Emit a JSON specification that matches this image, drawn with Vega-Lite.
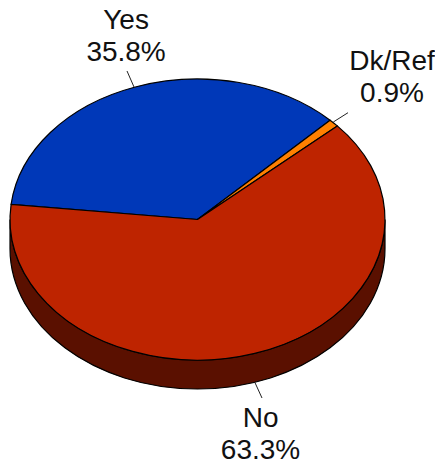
{
  "$schema": "https://vega.github.io/schema/vega-lite/v6.json",
  "width": 395,
  "height": 439,
  "padding": 0,
  "autosize": {"type": "pad"},
  "background": "white",
  "view": {"stroke": null},
  "data": {"values": [
    {"answer": "Yes", "share": 35.8, "rank": 1},
    {"answer": "Dk/Ref", "share": 0.9, "rank": 2},
    {"answer": "No", "share": 63.3, "rank": 3}
  ]},
  "transform": [
    {"stack": "share", "sort": [{"field": "rank", "order": "ascending"}], "as": ["s0", "s1"]},
    {"calculate": "(datum.s0 + datum.s1) / 2", "as": "mid"},
    {"calculate": "datum.answer + '\\n' + format(datum.share, '.1f') + '%'", "as": "label"}
  ],
  "layer": [
    {
      "transform": [{"filter": "datum.answer === 'No'"}],
      "mark": {"type": "point", "filled": true, "opacity": 1, "size": 4, "color": "#5A1000", "stroke": "#000", "strokeWidth": 1.2,
        "shape": "M187.5,0 A187.5,140.5 0 0 1 -187.5,0 L-187.5,29 A187.5,140.5 0 0 0 187.5,29 Z"},
      "encoding": {}
    },
    {
      "mark": {"type": "point", "filled": true, "opacity": 1, "size": 4, "stroke": "#000", "strokeWidth": 1.2},
      "encoding": {
        "color": {"field": "answer", "type": "nominal", "legend": null,
          "scale": {"domain": ["Yes", "Dk/Ref", "No"], "range": ["#0038B8", "#FF8000", "#BE2400"]}},
        "stroke": {"value": "#000"},
        "shape": {"field": "answer", "type": "nominal", "legend": null,
          "scale": {"domain": ["Yes", "Dk/Ref", "No"], "range": [
            "M0,0 L-186.4,-15.2 A187.5,140.5 0 0 1 132.6,-99.3 Z",
            "M0,0 L132.6,-99.3 A187.5,140.5 0 0 1 139.8,-93.6 Z",
            "M0,0 L139.8,-93.6 A187.5,140.5 0 1 1 -186.4,-15.2 Z"
          ]}}
      }
    },
    {
      "mark": {"type": "point", "filled": false, "opacity": 1, "size": 4, "color": "#222", "strokeWidth": 1},
      "encoding": {
        "shape": {"field": "answer", "type": "nominal", "legend": null,
          "scale": {"domain": ["Yes", "Dk/Ref", "No"], "range": [
            "M-70.5,-148.5 L-63.5,-132.5",
            "M135.8,-97.5 L150.5,-106.8",
            "M57.5,163.2 L64.5,178.5"
          ]}}
      }
    },
    {
      "transform": [{"filter": "datum.answer === 'Yes'"}],
      "mark": {"type": "text", "radius": 200, "dx": -5, "dy": -10, "font": "Liberation Sans", "fontSize": 28, "lineHeight": 32, "lineBreak": "\n", "color": "#111", "align": "center", "baseline": "middle"},
      "encoding": {
        "theta": {"field": "mid", "type": "quantitative", "stack": null, "scale": {"domain": [0, 100], "range": [4.82, 11.103]}},
        "text": {"field": "label", "type": "nominal"}
      }
    },
    {
      "transform": [{"filter": "datum.answer === 'Dk/Ref'"}],
      "mark": {"type": "text", "radius": 200, "dx": 49, "dy": -20, "font": "Liberation Sans", "fontSize": 28, "lineHeight": 32, "lineBreak": "\n", "color": "#111", "align": "center", "baseline": "middle"},
      "encoding": {
        "theta": {"field": "mid", "type": "quantitative", "stack": null, "scale": {"domain": [0, 100], "range": [4.82, 11.103]}},
        "text": {"field": "label", "type": "nominal"}
      }
    },
    {
      "transform": [{"filter": "datum.answer === 'No'"}],
      "mark": {"type": "text", "radius": 200, "dx": 2, "dy": 9, "font": "Liberation Sans", "fontSize": 28, "lineHeight": 32, "lineBreak": "\n", "color": "#111", "align": "center", "baseline": "middle"},
      "encoding": {
        "theta": {"field": "mid", "type": "quantitative", "stack": null, "scale": {"domain": [0, 100], "range": [4.82, 11.103]}},
        "text": {"field": "label", "type": "nominal"}
      }
    }
  ],
  "resolve": {"scale": {"shape": "independent", "color": "independent", "theta": "independent"}}
}
